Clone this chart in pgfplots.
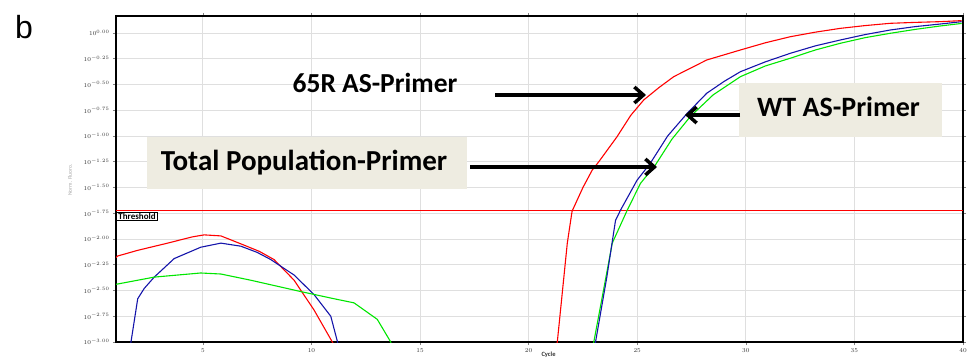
\documentclass[border=0pt]{standalone}
\usepackage{pgfplots}
\pgfplotsset{compat=1.18}
\usepackage{fontspec}
\setmainfont{Carlito}
\newfontfamily\arialfont{Liberation Sans}
\usetikzlibrary{arrows.meta}
\definecolor{boxbeige}{RGB}{238,236,225}
\definecolor{qblue}{RGB}{20,20,170}
\definecolor{qgreen}{RGB}{0,230,0}
\begin{document}
\begin{tikzpicture}[x=1pt,y=1pt]
\useasboundingbox (0,0) rectangle (969,362);
\begin{axis}[
  at={(116pt,20pt)}, anchor=south west,
  scale only axis, width=847pt, height=326pt,
  xmin=1, xmax=40, ymin=-3, ymax=0.165,
  xtick={5,10,...,40},
  ytick={-3,-2.75,...,0.01},
  grid=major,
  major grid style={gray!25, line width=0.8pt},
  axis line style={black, line width=1.2pt},
  tick style={gray, line width=0.6pt},
  tick align=outside,
  major tick length=3pt,
  x tick label style={font=\fontsize{6}{7}\selectfont\bfseries, color=black!80},
  y tick label style={font=\fontsize{6}{7}\selectfont\bfseries, color=black!80},
  yticklabel={$10^{\pgfmathprintnumber[fixed,fixed zerofill,precision=2]{\tick}}$},
  xticklabel={\pgfmathprintnumber{\tick}},
  clip=true,
]
% threshold
\addplot[red, line width=1pt] coordinates {(1,-1.725) (40,-1.725)};
% red early
\addplot[red, line width=1.1pt] coordinates {(1,-2.18)(1.08,-2.165)(2,-2.11)(3.38,-2.04)(4.5,-1.98)(5.06,-1.96)(5.83,-1.97)(6.9,-2.06)(7.6,-2.12)(8.28,-2.2)(9.2,-2.4)(10.12,-2.69)(10.96,-3.0)(11.1,-3.05)};
% blue early
\addplot[qblue, line width=1.1pt] coordinates {(1.6,-3.1)(1.69,-3)(2.0,-2.58)(2.3,-2.48)(2.76,-2.37)(3.68,-2.19)(4.9,-2.08)(5.83,-2.04)(6.75,-2.07)(7.5,-2.13)(8.13,-2.2)(9.2,-2.35)(10.12,-2.54)(10.89,-2.75)(11.2,-3)(11.25,-3.05)};
% green early
\addplot[qgreen, line width=1.1pt] coordinates {(1,-2.44)(2.76,-2.37)(4.9,-2.33)(5.83,-2.34)(7.2,-2.40)(9.5,-2.51)(11.04,-2.58)(11.96,-2.62)(13.03,-2.78)(13.65,-3)(13.7,-3.05)};
% green amplification
\addplot[qgreen, line width=1.1pt] coordinates {(22.98,-3.1)(23.0,-3)(23.4,-2.55)(23.85,-2.04)(24.54,-1.72)(25.15,-1.46)(25.84,-1.28)(26.6,-1.03)(27.45,-0.81)(28.5,-0.6)(29.75,-0.424)(30.9,-0.32)(32.05,-0.245)(33.2,-0.165)(34.35,-0.1)(35.5,-0.045)(36.65,-0.003)(37.8,0.035)(38.95,0.068)(39.94,0.093)};
% blue amplification
\addplot[qblue, line width=1.1pt] coordinates {(23.05,-3.1)(23.08,-3)(23.6,-2.37)(24.0,-1.82)(24.23,-1.72)(24.99,-1.43)(25.6,-1.265)(26.4,-1.0)(27.3,-0.78)(28.2,-0.585)(29.0,-0.47)(29.75,-0.376)(30.9,-0.28)(32.05,-0.197)(33.2,-0.125)(34.35,-0.068)(35.5,-0.015)(36.65,0.029)(37.8,0.062)(38.95,0.087)(39.94,0.11)};
% red amplification
\addplot[red, line width=1.1pt] coordinates {(21.2,-3.1)(21.32,-3)(21.78,-2.04)(22.0,-1.73)(22.5,-1.5)(22.93,-1.33)(23.23,-1.25)(24.07,-1.007)(24.7,-0.8)(25.3,-0.65)(26.0,-0.53)(26.68,-0.424)(28.2,-0.262)(29.75,-0.165)(30.9,-0.095)(32.05,-0.036)(33.2,0.008)(34.35,0.045)(35.5,0.072)(36.65,0.094)(37.8,0.103)(38.95,0.11)(39.94,0.12)};
\node[draw=black, line width=0.9pt, fill=white, anchor=north west, inner xsep=2pt, inner ysep=1.2pt,
      font=\fontsize{9}{10}\selectfont\bfseries] at (axis cs:1,-1.735) {Threshold};
\end{axis}
% axis labels
\node[rotate=90, font=\fontsize{5.5}{6}\selectfont, color=gray!70] at (70,182) {Norm. Fluoro.};
\node[font=\fontsize{6.5}{7}\selectfont\bfseries, color=black!80, anchor=south west] at (538,0.5) {Cycle};
% panel letter
\node[font=\arialfont\fontsize{32}{36}\selectfont, anchor=center] at (24,335) {b};
% boxes
\fill[boxbeige] (147,173) rectangle (467,225);
\fill[boxbeige] (739,225) rectangle (942,279);
\node[font=\bfseries\fontsize{29}{32}\selectfont, anchor=base] at (304,192) {Total Population-Primer};
\node[font=\bfseries\fontsize{28}{32}\selectfont, anchor=base] at (838.5,245) {WT AS-Primer};
\node[font=\bfseries\fontsize{27.5}{32}\selectfont, anchor=base] at (375,269) {65R AS-Primer};
% arrows
\draw[line width=3.5pt, -{Straight Barb[length=9pt, width=16pt, line width=3.5pt]}] (495,267) -- (646,267);
\draw[line width=3.5pt, -{Straight Barb[length=9pt, width=16pt, line width=3.5pt]}] (470,195) -- (657,195);
\draw[line width=3.5pt, -{Straight Barb[length=9pt, width=16pt, line width=3.5pt]}] (740,247) -- (685,247);
\end{tikzpicture}
\end{document}
